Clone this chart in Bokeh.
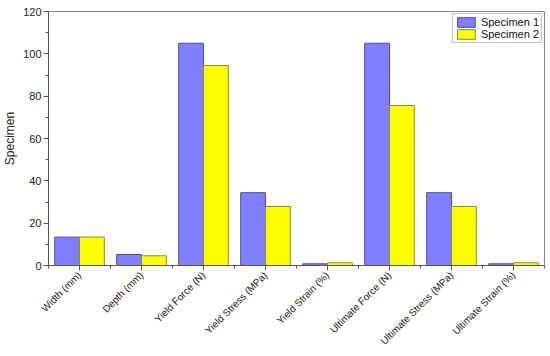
import numpy as np
from bokeh.plotting import figure
from bokeh.models import FixedTicker, Range1d, ColumnDataSource, Legend, LegendItem
from bokeh.embed import file_html
from bokeh.resources import INLINE

categories = ["Width (mm)", "Depth (mm)", "Yield Force (N)", "Yield Stress (MPa)",
              "Yield Strain (%)", "Ultimate Force (N)", "Ultimate Stress (MPa)", "Ultimate Strain (%)"]
specimen1 = [13.4, 5.2, 105.0, 34.4, 0.8, 105.0, 34.4, 0.8]
specimen2 = [13.5, 4.6, 94.5, 27.9, 1.3, 75.6, 27.9, 1.3]
y_ticks = [0, 20, 40, 60, 80, 100, 120]

xs = np.arange(len(categories))
src = ColumnDataSource(dict(x1=xs - 0.2, x2=xs + 0.2, s1=specimen1, s2=specimen2))

p = figure(frame_width=496, frame_height=254, output_backend="svg", toolbar_location=None,
           x_range=Range1d(-0.5, len(categories) - 0.5), y_range=Range1d(0, 120),
           min_border_left=0, min_border_right=1, min_border_top=11, min_border_bottom=0)

r1 = p.vbar(x="x1", top="s1", width=0.4, source=src, fill_color="#7F7FFF",
            line_color="#4A4AB0", line_width=1)
r2 = p.vbar(x="x2", top="s2", width=0.4, source=src, fill_color="#FFFF00",
            line_color="#8C8C30", line_width=1)

p.xgrid.visible = False
p.ygrid.visible = False
p.outline_line_color = "#888888"
p.outline_line_width = 1

p.xaxis.ticker = FixedTicker(ticks=list(xs), minor_ticks=list(np.arange(-0.5, len(categories), 1.0)))
p.xaxis.major_label_overrides = {int(i): c for i, c in zip(xs, categories)}
p.xaxis.major_label_orientation = np.pi / 4
p.yaxis.ticker = FixedTicker(ticks=y_ticks, minor_ticks=list(range(0, 121, 10)))
p.yaxis.axis_label = "Specimen"

for ax in (p.xaxis[0], p.yaxis[0]):
    ax.axis_line_color = "#555555"
    ax.major_tick_line_color = "#555555"
    ax.minor_tick_line_color = "#555555"
    ax.major_tick_in = 0
    ax.major_tick_out = 5
    ax.minor_tick_in = 0
    ax.minor_tick_out = 3
    ax.major_label_text_font = "Liberation Sans"
    ax.major_label_text_font_size = "11px"
    ax.major_label_text_color = "#222222"
    ax.axis_label_text_font = "Liberation Sans"
    ax.axis_label_text_font_size = "12px"
    ax.axis_label_text_font_style = "normal"
    ax.axis_label_text_color = "#222222"
p.xaxis.major_label_text_font_size = "10px"
p.xaxis.major_label_standoff = 3
p.yaxis.axis_label_standoff = 3
p.yaxis.major_label_standoff = 2

legend = Legend(items=[LegendItem(label="Specimen 1", renderers=[r1]),
                       LegendItem(label="Specimen 2", renderers=[r2])],
                location="top_right")
legend.label_text_font = "Liberation Sans"
legend.label_text_font_size = "11px"
legend.label_text_color = "#111111"
legend.border_line_color = "#888888"
legend.border_line_width = 1
legend.padding = 2
legend.margin = 2
legend.spacing = 0
legend.glyph_width = 22
legend.glyph_height = 12
legend.label_height = 12
legend.label_standoff = 4
p.add_layout(legend)

open("out.html", "w").write(file_html(p, INLINE))
